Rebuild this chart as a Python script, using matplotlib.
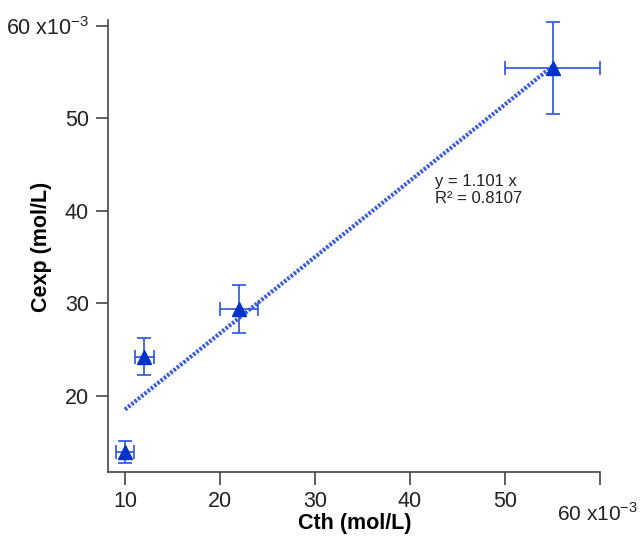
import matplotlib.pyplot as plt

plt.rcParams['font.family'] = ['Liberation Sans', 'DejaVu Sans']
plt.rcParams['mathtext.fontset'] = 'custom'
plt.rcParams['mathtext.rm'] = 'Liberation Sans'

# data (values in 1e-3 mol/L)
cth = [10, 12, 22, 55]
cexp = [13.9, 24.2, 29.4, 55.4]
cth_err = [0.9, 1.0, 2.0, 5.0]
cexp_err = [1.2, 2.0, 2.6, 5.0]

# linear fit line as drawn
fit_x = [10, 55]
fit_y = [18.5, 55.6]
fit_text = 'y = 1.101 x\nR² = 0.8107'

xticks = [10, 20, 30, 40, 50, 60]
xticklabels = ['10', '20', '30', '40', '50', '']
yticks = [20, 30, 40, 50, 60]
yticklabels = ['20', '30', '40', '50', r'60 x10$^{\mathregular{-3}}$']

fig = plt.figure(figsize=(6.41, 5.37), dpi=100)
ax = fig.add_axes([108.5 / 641, 1 - 472 / 537, (600 - 108.5) / 641, (472 - 20) / 537])

ax.plot(fit_x, fit_y, color='#3a5ce0', lw=3, ls=(0, (0.6, 0.4)), zorder=2)
ax.errorbar(cth, cexp, xerr=cth_err, yerr=cexp_err, fmt='none',
            ecolor='#2a55dd', elinewidth=1.2, capsize=5, capthick=1.2, zorder=3)
ax.plot(cth, cexp, ls='none', marker='^', ms=10, color='#0033cc', zorder=4)

ax.text(42.6, 44.0, fit_text, fontsize=12, va='top', ha='left', color='#222222', linespacing=1.2)

ax.set_xlim(8.26, 60)
ax.set_ylim(11.75, 60.6)
ax.set_xticks(xticks)
ax.set_xticklabels(xticklabels)
ax.set_yticks(yticks)
ax.set_yticklabels(yticklabels)

for s in ['top', 'right']:
    ax.spines[s].set_visible(False)
for s in ['left', 'bottom']:
    ax.spines[s].set_color('#444444')
    ax.spines[s].set_linewidth(1.2)

ax.tick_params(direction='out', length=9, width=1.2, color='#444444',
               labelsize=15.5, labelcolor='#222222', pad=5)

fig.text(557 / 641, 1 - 513 / 537, r'60 x10$^{\mathregular{-3}}$', fontsize=15,
         ha='left', va='center', color='#222222')

fig.text(355 / 641, 1 - 523 / 537, 'Cth (mol/L)', fontsize=15.5, fontweight='bold',
         ha='center', va='center')
fig.text(42 / 641, 1 - 247 / 537, 'Cexp (mol/L)', fontsize=15.5, fontweight='bold',
         ha='center', va='center', rotation=90)

plt.savefig('out.png', dpi=100)
